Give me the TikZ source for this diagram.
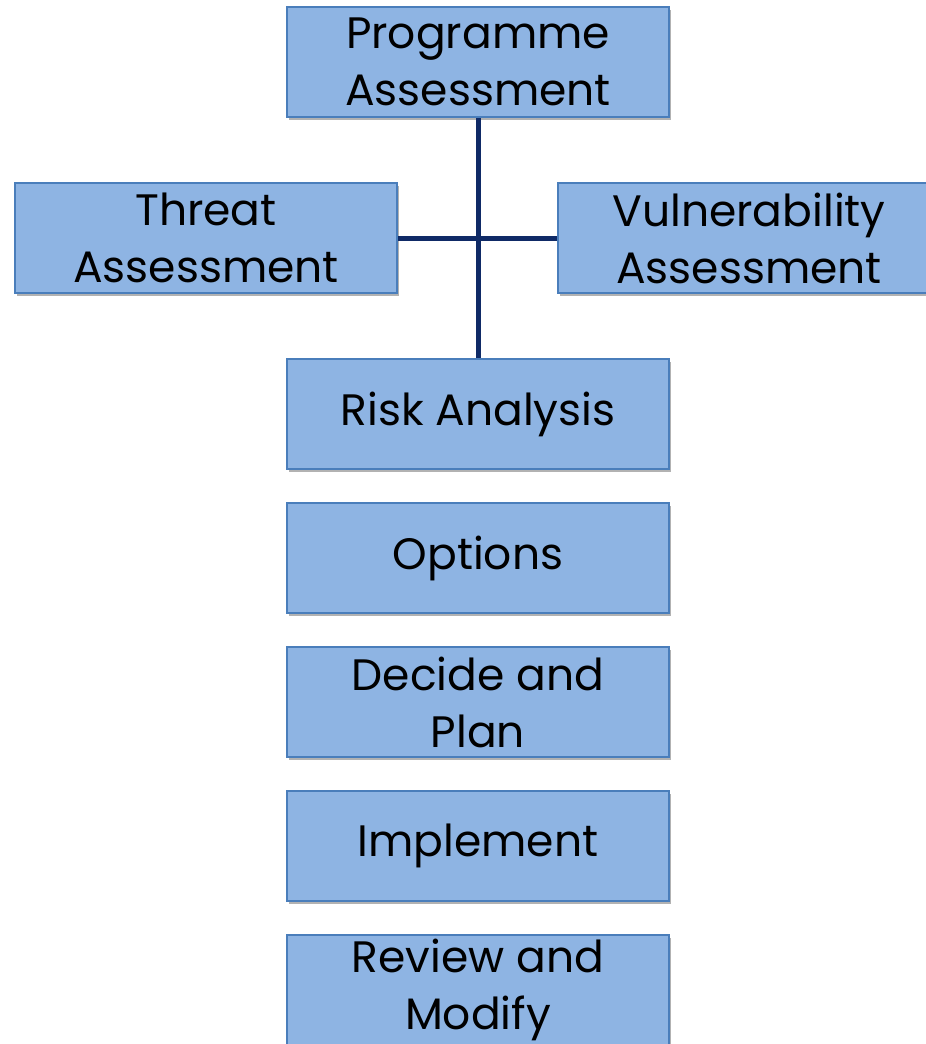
\documentclass[tikz,border=0pt]{standalone}
\usepackage{fontspec}
\setmainfont{Poppins}
\usepackage{tikz}
\usetikzlibrary{positioning,shadows}
\definecolor{boxfill}{HTML}{8EB4E3}
\definecolor{boxline}{HTML}{4A7EBB}
\definecolor{linkline}{HTML}{0F2A66}

\begin{document}
\begin{tikzpicture}[node distance=16pt,every text node part/.style={align=center},
  stage/.style={draw=boxline,line width=1pt,fill=boxfill,minimum width=191pt,minimum height=55pt,inner sep=0pt,
    font=\fontsize{22}{28.5}\selectfont,drop shadow={shadow xshift=1.2pt,shadow yshift=-1.5pt,opacity=0.3,fill=black}},
  link/.style={draw=linkline,line width=2.5pt}]
  \useasboundingbox (0,0) rectangle (463pt,-522pt);
  \node[stage]  (pa)  at (239pt,-31pt)  {Programme \\ Assessment};
  \node[stage]  (ta)  [below=32pt of pa,xshift=-136pt]  {Threat \\ Assessment};
  \node[stage]  (va)  [below=32pt of pa,xshift=135.5pt]  {Vulnerability \\ Assessment};
  \node[stage]  (ra)  [below=120pt of pa]  {Risk Analysis};
  \node[stage]  (op)  [below=of ra]  {Options};
  \node[stage]  (dp)  [below=of op]  {Decide and \\ Plan};
  \node[stage]  (im)  [below=of dp]  {Implement};
  \node[stage]  (rm)  [below=of im]  {Review and \\ Modify};
  \path[link] (pa) -- (ra);
  \path[link] (ta) -- (va);
\end{tikzpicture}
\end{document}
